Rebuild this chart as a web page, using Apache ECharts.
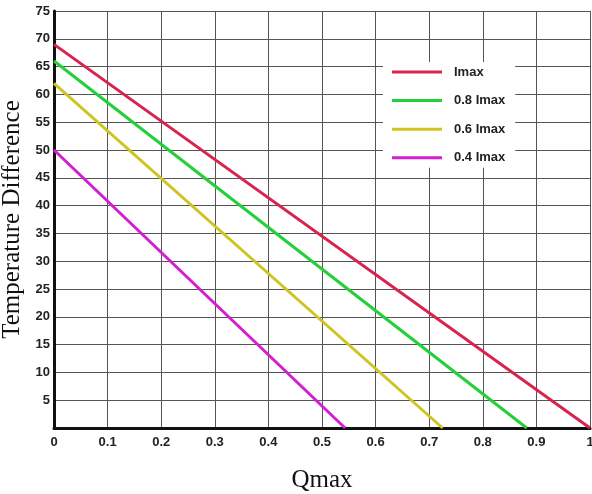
<!DOCTYPE html>
<html><head><meta charset="utf-8">
<script src="https://cdn.jsdelivr.net/npm/echarts@6/dist/echarts.min.js"></script>
<style>html,body{margin:0;padding:0;background:#fff}#c{width:592px;height:494px}</style>
</head><body><div id="c"></div>
<script>
var seriesNames = ['Imax', '0.8 Imax', '0.6 Imax', '0.4 Imax'];
var seriesColors = ['#d9234e', '#22d03c', '#cfc421', '#d21fd2'];
var imaxPts = [[0, 69], [1, 0]];
var imax08Pts = [[0, 66], [0.882, 0]];
var imax06Pts = [[0, 62], [0.725, 0]];
var imax04Pts = [[0, 50], [0.543, 0]];
var allPts = [imaxPts, imax08Pts, imax06Pts, imax04Pts];

var chart = echarts.init(document.getElementById('c'), null, {renderer: 'canvas'});
var lbl = {fontFamily: 'Liberation Sans, Arial', fontWeight: 'bold', fontSize: 13, color: '#222'};
chart.setOption({
  animation: false,
  grid: {left: 54, right: 2, top: 11, bottom: 66, containLabel: false, outerBoundsMode: 'none'},
  legend: {
    orient: 'vertical', left: 383, top: 62, itemWidth: 50, itemHeight: 3,
    itemGap: 14.6, backgroundColor: '#fff', padding: [3, 10, 3, 9],
    icon: 'rect',
    textStyle: {fontFamily: 'Liberation Sans, Arial', fontWeight: 'bold', fontSize: 13, lineHeight: 14, color: '#222', padding: [0, 0, 0, 7]},
    data: seriesNames
  },
  xAxis: {
    type: 'value', min: 0, max: 1, interval: 0.1,
    name: 'Qmax', nameLocation: 'middle', nameGap: 40,
    nameTextStyle: {fontFamily: 'Liberation Serif, Times New Roman', fontSize: 25, color: '#111'},
    axisLine: {show: true, lineStyle: {color: '#111', width: 3}},
    axisTick: {show: false},
    axisLabel: Object.assign({margin: 8, formatter: function(v){ return v === 0 ? '0' : (v === 1 ? '1' : v.toFixed(1)); }}, lbl),
    splitLine: {show: true, lineStyle: {color: '#555', width: 1}}
  },
  yAxis: {
    type: 'value', min: 0, max: 75, interval: 5,
    name: 'Temperature Difference', nameLocation: 'middle', nameGap: 19,
    nameTextStyle: {fontFamily: 'Liberation Serif, Times New Roman', fontSize: 25, color: '#111'},
    axisLine: {show: true, lineStyle: {color: '#111', width: 3}},
    axisTick: {show: false},
    axisLabel: Object.assign({margin: 4, formatter: function(v){ return v === 0 ? '' : String(v); }}, lbl),
    splitLine: {show: true, lineStyle: {color: '#555', width: 1}}
  },
  series: seriesNames.map(function(n, i){
    return {
      name: n, type: 'line', data: allPts[i], showSymbol: false, symbol: 'none',
      lineStyle: {color: seriesColors[i], width: 3}, itemStyle: {color: seriesColors[i]}, z: 3
    };
  })
});
</script></body></html>
